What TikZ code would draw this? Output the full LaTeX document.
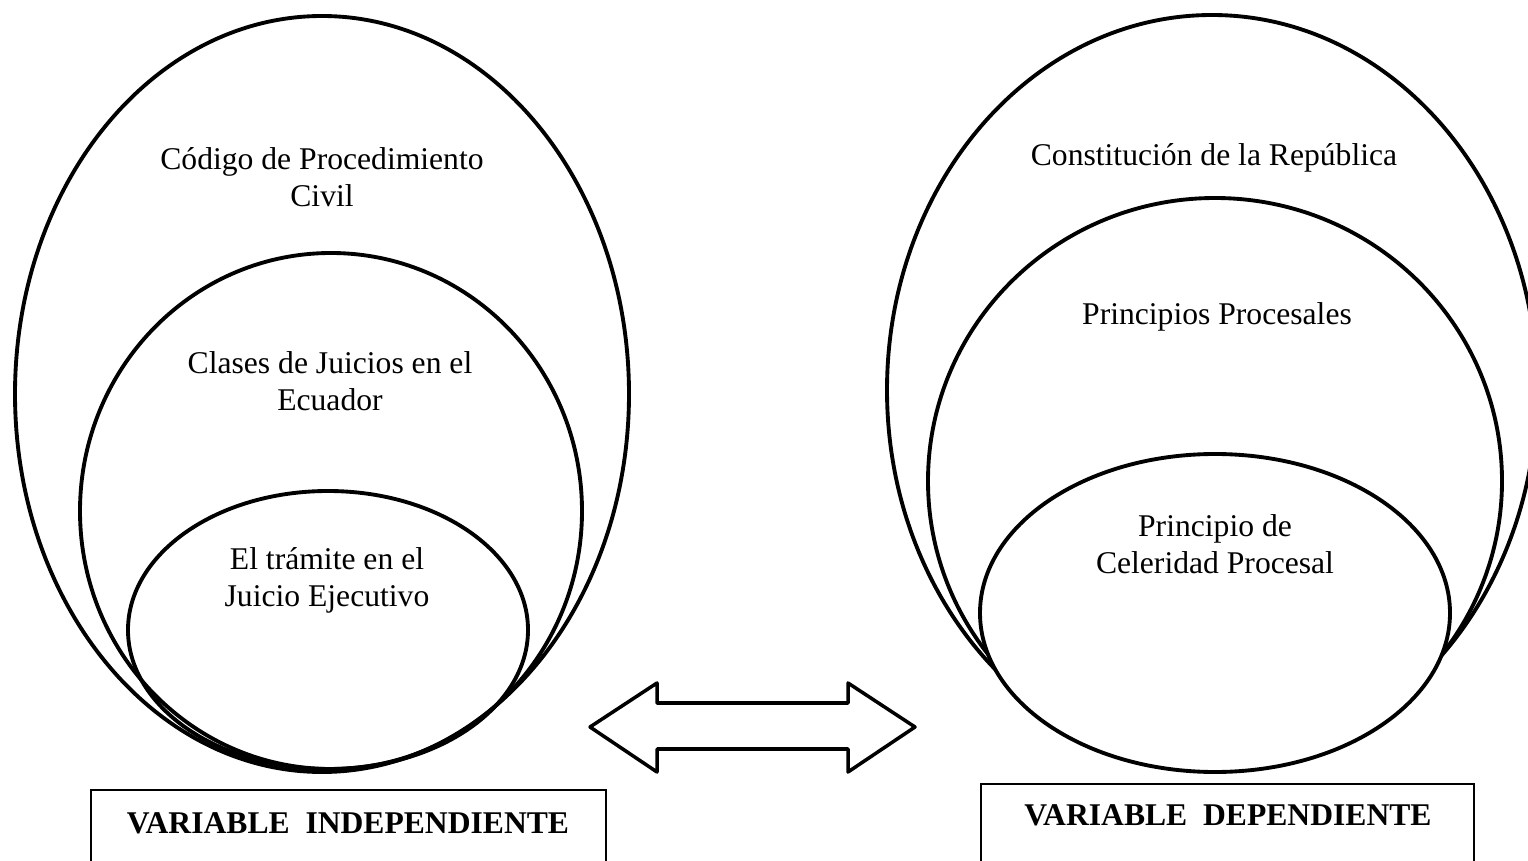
\documentclass[tikz,border=0pt]{standalone}
\usepackage{fontspec}
\setmainfont{Liberation Serif}
\usepackage{tikz}
\usetikzlibrary{calc,positioning}
\tikzset{%
	ring/.style     = {line width=2.2pt},
	ringtext/.style = {align=center, font=\fontsize{18}{21}\selectfont, inner sep=0pt},
	vartext/.style  = {font=\fontsize{18}{21}\selectfont\bfseries, inner sep=0pt},
	varbox/.style   = {line width=0.9pt},
	dblarrow/.style = {line width=2pt, line join=round},
}

\begin{document}
\begin{tikzpicture}[x=0.02cm,y=-0.02cm]
	\useasboundingbox (0,0) rectangle (1528,861);
	\clip (0,0) rectangle (1528,861);
	% variable independiente
	\draw[ring] (322,394) ellipse [x radius=307, y radius=378];
	\draw[ring] (331,511) ellipse [x radius=251, y radius=258];
	\draw[ring] (328,630) ellipse [x radius=200, y radius=139];
	\node[ringtext] (cpc) at (322,177) {Código de Procedimiento\\Civil};
	\node[ringtext] (cje) at (330,381) {Clases de Juicios en el\\Ecuador};
	\node[ringtext] (tje) at (327,580) {El trámite en el\\Juicio Ejecutivo};
	% variable dependiente
	\draw[ring] (1212,390) ellipse [x radius=325, y radius=375];
	\draw[ring] (1215,481) ellipse [x radius=287, y radius=283];
	\draw[ring, fill=white] (1215,613) ellipse [x radius=235, y radius=159];  % tapa los otros
	\node[ringtext] (cr) at (1214,158) {Constitución de la República};
	\node[ringtext] (pp) at (1217,317) {Principios Procesales};
	\node[ringtext] (pcp) at (1215,544) {Principio de\\Celeridad Procesal};
	% relacion entre variables
	\draw[dblarrow] (590,727) -- (657,683) -- (657,703) -- (848,703) -- (848,683) -- (915,727)
		-- (848,772) -- (848,749) -- (657,749) -- (657,772) -- cycle;
	% recuadros
	\draw[varbox] (91,880) -- (91,790) -- (606,790) -- (606,880);
	\node[vartext] (vi) at (348,823) {VARIABLE\ \ INDEPENDIENTE};
	\draw[varbox] (981,880) -- (981,784) -- (1474,784) -- (1474,880);
	\node[vartext] (vd) at (1228,815) {VARIABLE\ \ DEPENDIENTE};
\end{tikzpicture}
\end{document}
